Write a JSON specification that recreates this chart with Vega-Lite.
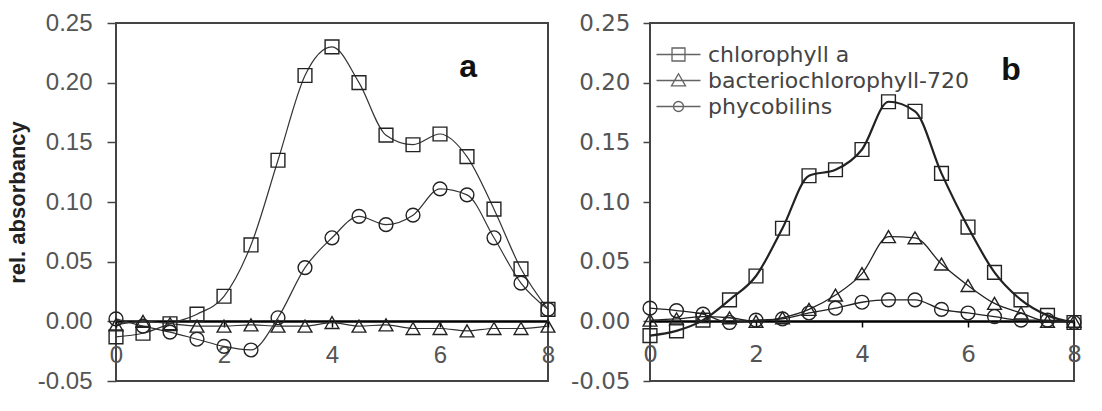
{
  "$schema": "https://vega.github.io/schema/vega-lite/v6.json",
  "padding": {"left": 5, "top": 10, "right": 5, "bottom": 5},
  "background": "white",
  "bounds": "flush",
  "spacing": 102,
  "config": {
    "font": "Liberation Sans",
    "view": {"stroke": "#444", "strokeWidth": 2},
    "axis": {"grid": false}
  },
  "datasets": {
    "pts": [
      {"panel": "a", "series": "chlorophyll a", "x": 0, "y": -0.013},
      {"panel": "a", "series": "chlorophyll a", "x": 0.5, "y": -0.010},
      {"panel": "a", "series": "chlorophyll a", "x": 1, "y": -0.002},
      {"panel": "a", "series": "chlorophyll a", "x": 1.5, "y": 0.006},
      {"panel": "a", "series": "chlorophyll a", "x": 2, "y": 0.021},
      {"panel": "a", "series": "chlorophyll a", "x": 2.5, "y": 0.064},
      {"panel": "a", "series": "chlorophyll a", "x": 3, "y": 0.135},
      {"panel": "a", "series": "chlorophyll a", "x": 3.5, "y": 0.206},
      {"panel": "a", "series": "chlorophyll a", "x": 4, "y": 0.230},
      {"panel": "a", "series": "chlorophyll a", "x": 4.5, "y": 0.200},
      {"panel": "a", "series": "chlorophyll a", "x": 5, "y": 0.156},
      {"panel": "a", "series": "chlorophyll a", "x": 5.5, "y": 0.148},
      {"panel": "a", "series": "chlorophyll a", "x": 6, "y": 0.157},
      {"panel": "a", "series": "chlorophyll a", "x": 6.5, "y": 0.138},
      {"panel": "a", "series": "chlorophyll a", "x": 7, "y": 0.094},
      {"panel": "a", "series": "chlorophyll a", "x": 7.5, "y": 0.044},
      {"panel": "a", "series": "chlorophyll a", "x": 8, "y": 0.010},
      {"panel": "a", "series": "bacteriochlorophyll-720", "x": 0, "y": -0.003},
      {"panel": "a", "series": "bacteriochlorophyll-720", "x": 0.5, "y": 0.0},
      {"panel": "a", "series": "bacteriochlorophyll-720", "x": 1, "y": -0.002},
      {"panel": "a", "series": "bacteriochlorophyll-720", "x": 1.5, "y": -0.004},
      {"panel": "a", "series": "bacteriochlorophyll-720", "x": 2, "y": -0.004},
      {"panel": "a", "series": "bacteriochlorophyll-720", "x": 2.5, "y": -0.003},
      {"panel": "a", "series": "bacteriochlorophyll-720", "x": 3, "y": -0.004},
      {"panel": "a", "series": "bacteriochlorophyll-720", "x": 3.5, "y": -0.004},
      {"panel": "a", "series": "bacteriochlorophyll-720", "x": 4, "y": -0.001},
      {"panel": "a", "series": "bacteriochlorophyll-720", "x": 4.5, "y": -0.004},
      {"panel": "a", "series": "bacteriochlorophyll-720", "x": 5, "y": -0.003},
      {"panel": "a", "series": "bacteriochlorophyll-720", "x": 5.5, "y": -0.006},
      {"panel": "a", "series": "bacteriochlorophyll-720", "x": 6, "y": -0.006},
      {"panel": "a", "series": "bacteriochlorophyll-720", "x": 6.5, "y": -0.008},
      {"panel": "a", "series": "bacteriochlorophyll-720", "x": 7, "y": -0.006},
      {"panel": "a", "series": "bacteriochlorophyll-720", "x": 7.5, "y": -0.006},
      {"panel": "a", "series": "bacteriochlorophyll-720", "x": 8, "y": -0.004},
      {"panel": "a", "series": "phycobilins", "x": 0, "y": 0.002},
      {"panel": "a", "series": "phycobilins", "x": 0.5, "y": -0.004},
      {"panel": "a", "series": "phycobilins", "x": 1, "y": -0.009},
      {"panel": "a", "series": "phycobilins", "x": 1.5, "y": -0.015},
      {"panel": "a", "series": "phycobilins", "x": 2, "y": -0.021},
      {"panel": "a", "series": "phycobilins", "x": 2.5, "y": -0.024},
      {"panel": "a", "series": "phycobilins", "x": 3, "y": 0.003},
      {"panel": "a", "series": "phycobilins", "x": 3.5, "y": 0.045},
      {"panel": "a", "series": "phycobilins", "x": 4, "y": 0.070},
      {"panel": "a", "series": "phycobilins", "x": 4.5, "y": 0.088},
      {"panel": "a", "series": "phycobilins", "x": 5, "y": 0.081},
      {"panel": "a", "series": "phycobilins", "x": 5.5, "y": 0.089},
      {"panel": "a", "series": "phycobilins", "x": 6, "y": 0.111},
      {"panel": "a", "series": "phycobilins", "x": 6.5, "y": 0.106},
      {"panel": "a", "series": "phycobilins", "x": 7, "y": 0.070},
      {"panel": "a", "series": "phycobilins", "x": 7.5, "y": 0.032},
      {"panel": "a", "series": "phycobilins", "x": 8, "y": 0.010},
      {"panel": "b", "series": "chlorophyll a", "x": 0, "y": -0.012},
      {"panel": "b", "series": "chlorophyll a", "x": 0.5, "y": -0.008},
      {"panel": "b", "series": "chlorophyll a", "x": 1, "y": 0.001},
      {"panel": "b", "series": "chlorophyll a", "x": 1.5, "y": 0.018},
      {"panel": "b", "series": "chlorophyll a", "x": 2, "y": 0.038},
      {"panel": "b", "series": "chlorophyll a", "x": 2.5, "y": 0.078},
      {"panel": "b", "series": "chlorophyll a", "x": 3, "y": 0.122},
      {"panel": "b", "series": "chlorophyll a", "x": 3.5, "y": 0.127},
      {"panel": "b", "series": "chlorophyll a", "x": 4, "y": 0.144},
      {"panel": "b", "series": "chlorophyll a", "x": 4.5, "y": 0.184},
      {"panel": "b", "series": "chlorophyll a", "x": 5, "y": 0.176},
      {"panel": "b", "series": "chlorophyll a", "x": 5.5, "y": 0.124},
      {"panel": "b", "series": "chlorophyll a", "x": 6, "y": 0.079},
      {"panel": "b", "series": "chlorophyll a", "x": 6.5, "y": 0.041},
      {"panel": "b", "series": "chlorophyll a", "x": 7, "y": 0.018},
      {"panel": "b", "series": "chlorophyll a", "x": 7.5, "y": 0.005},
      {"panel": "b", "series": "chlorophyll a", "x": 8, "y": -0.001},
      {"panel": "b", "series": "bacteriochlorophyll-720", "x": 0, "y": 0.001},
      {"panel": "b", "series": "bacteriochlorophyll-720", "x": 0.5, "y": 0.002},
      {"panel": "b", "series": "bacteriochlorophyll-720", "x": 1, "y": 0.004},
      {"panel": "b", "series": "bacteriochlorophyll-720", "x": 1.5, "y": 0.003},
      {"panel": "b", "series": "bacteriochlorophyll-720", "x": 2, "y": 0.0},
      {"panel": "b", "series": "bacteriochlorophyll-720", "x": 2.5, "y": 0.003},
      {"panel": "b", "series": "bacteriochlorophyll-720", "x": 3, "y": 0.010},
      {"panel": "b", "series": "bacteriochlorophyll-720", "x": 3.5, "y": 0.022},
      {"panel": "b", "series": "bacteriochlorophyll-720", "x": 4, "y": 0.040},
      {"panel": "b", "series": "bacteriochlorophyll-720", "x": 4.5, "y": 0.071},
      {"panel": "b", "series": "bacteriochlorophyll-720", "x": 5, "y": 0.070},
      {"panel": "b", "series": "bacteriochlorophyll-720", "x": 5.5, "y": 0.048},
      {"panel": "b", "series": "bacteriochlorophyll-720", "x": 6, "y": 0.030},
      {"panel": "b", "series": "bacteriochlorophyll-720", "x": 6.5, "y": 0.015},
      {"panel": "b", "series": "bacteriochlorophyll-720", "x": 7, "y": 0.007},
      {"panel": "b", "series": "bacteriochlorophyll-720", "x": 7.5, "y": 0.0},
      {"panel": "b", "series": "bacteriochlorophyll-720", "x": 8, "y": 0.0},
      {"panel": "b", "series": "phycobilins", "x": 0, "y": 0.011},
      {"panel": "b", "series": "phycobilins", "x": 0.5, "y": 0.009},
      {"panel": "b", "series": "phycobilins", "x": 1, "y": 0.006},
      {"panel": "b", "series": "phycobilins", "x": 1.5, "y": -0.001},
      {"panel": "b", "series": "phycobilins", "x": 2, "y": 0.001},
      {"panel": "b", "series": "phycobilins", "x": 2.5, "y": 0.002},
      {"panel": "b", "series": "phycobilins", "x": 3, "y": 0.007},
      {"panel": "b", "series": "phycobilins", "x": 3.5, "y": 0.011},
      {"panel": "b", "series": "phycobilins", "x": 4, "y": 0.016},
      {"panel": "b", "series": "phycobilins", "x": 4.5, "y": 0.018},
      {"panel": "b", "series": "phycobilins", "x": 5, "y": 0.018},
      {"panel": "b", "series": "phycobilins", "x": 5.5, "y": 0.010},
      {"panel": "b", "series": "phycobilins", "x": 6, "y": 0.007},
      {"panel": "b", "series": "phycobilins", "x": 6.5, "y": 0.004},
      {"panel": "b", "series": "phycobilins", "x": 7, "y": 0.001},
      {"panel": "b", "series": "phycobilins", "x": 7.5, "y": 0.001},
      {"panel": "b", "series": "phycobilins", "x": 8, "y": -0.001}
    ],
    "ann": [
      {"panel": "a", "label": "a", "x": 6.52, "y": 0.205},
      {"panel": "b", "label": "b", "x": 6.81, "y": 0.202}
    ]
  },
  "hconcat": [
    {
      "width": 432,
      "height": 358,
      "layer": [
        {
          "data": {"name": "pts"},
          "transform": [{"filter": "datum.panel === 'a'"}],
          "mark": {"type": "line", "interpolate": "monotone", "color": "#333", "strokeWidth": 1.2},
          "encoding": {
            "x": {"field": "x", "type": "quantitative", "scale": {"domain": [0, 8], "nice": false},
              "axis": {"values": [0, 2, 4, 6, 8], "format": "d", "offset": -60, "title": null, "labelFlush": false,
                "domainColor": "#000", "domainWidth": 2.5, "tickColor": "#000", "tickSize": 6, "tickWidth": 1.5,
                "labelPadding": 16, "labelFontSize": 24, "labelFont": "Liberation Sans", "labelColor": "#555"}},
            "y": {"field": "y", "type": "quantitative", "scale": {"domain": [-0.05, 0.25], "nice": false, "zero": false},
              "axis": {"values": [-0.05, 0, 0.05, 0.1, 0.15, 0.2, 0.25], "labelExpr": "datum.value < 0 ? '-' + format(-datum.value, '.2f') : format(datum.value, '.2f')", "domain": false,
                "tickColor": "#444", "tickSize": 9, "tickWidth": 1.5, "labelPadding": 15, "labelFontSize": 24, "labelFont": "Liberation Sans", "labelColor": "#555",
                "title": "rel. absorbancy", "titleFont": "Liberation Sans", "titleFontSize": 22, "titleFontWeight": "bold", "titleColor": "#222", "titlePadding": 8}},
            "detail": {"field": "series"}
          }
        },
        {
          "data": {"name": "pts"},
          "transform": [{"filter": "datum.panel === 'a'"}],
          "mark": {"type": "point", "filled": false, "strokeWidth": 1.4, "color": "#222", "size": 190, "opacity": 1},
          "encoding": {
            "x": {"field": "x", "type": "quantitative"},
            "y": {"field": "y", "type": "quantitative"},
            "shape": {"field": "series", "type": "nominal",
              "scale": {"domain": ["chlorophyll a", "bacteriochlorophyll-720", "phycobilins"], "range": ["square", "triangle-up", "circle"]},
              "legend": null}
          }
        },
        {
          "data": {"name": "ann"},
          "transform": [{"filter": "datum.panel === 'a'"}],
          "mark": {"type": "text", "fontSize": 32, "fontWeight": "bold", "font": "Liberation Sans", "baseline": "alphabetic", "align": "center", "color": "#111"},
          "encoding": {
            "x": {"field": "x", "type": "quantitative"},
            "y": {"field": "y", "type": "quantitative"},
            "text": {"field": "label"}
          }
        }
      ]
    },
    {
      "width": 424,
      "height": 358,
      "resolve": {"scale": {"shape": "independent"}, "legend": {"shape": "independent"}},
      "layer": [
        {
          "data": {"name": "pts"},
          "transform": [{"filter": "datum.panel === 'b'"}],
          "mark": {"type": "line", "interpolate": "monotone", "color": "#222"},
          "encoding": {
            "x": {"field": "x", "type": "quantitative", "scale": {"domain": [0, 8], "nice": false},
              "axis": {"values": [0, 2, 4, 6, 8], "format": "d", "offset": -60, "title": null, "labelFlush": false,
                "domainColor": "#000", "domainWidth": 2.5, "tickColor": "#000", "tickSize": 6, "tickWidth": 1.5,
                "labelPadding": 16, "labelFontSize": 23, "labelFont": "DejaVu Sans", "labelColor": "#555"}},
            "y": {"field": "y", "type": "quantitative", "scale": {"domain": [-0.05, 0.25], "nice": false, "zero": false},
              "axis": {"values": [-0.05, 0, 0.05, 0.1, 0.15, 0.2, 0.25], "labelExpr": "datum.value < 0 ? '-' + format(-datum.value, '.2f') : format(datum.value, '.2f')", "domain": false,
                "tickColor": "#444", "tickSize": 7, "tickWidth": 1.5, "labelPadding": 13, "labelFontSize": 23, "labelFont": "DejaVu Sans", "labelColor": "#555",
                "title": null}},
            "detail": {"field": "series"},
            "strokeWidth": {"condition": {"test": "datum.series === 'chlorophyll a'", "value": 2.2}, "value": 1.3}
          }
        },
        {
          "data": {"name": "pts"},
          "transform": [{"filter": "datum.panel === 'b'"}],
          "mark": {"type": "point", "filled": false, "strokeWidth": 1.4, "color": "#222", "size": 190, "opacity": 1},
          "encoding": {
            "x": {"field": "x", "type": "quantitative"},
            "y": {"field": "y", "type": "quantitative"},
            "shape": {"field": "series", "type": "nominal",
              "scale": {"domain": ["chlorophyll a", "bacteriochlorophyll-720", "phycobilins"], "range": ["square", "triangle-up", "circle"]},
              "legend": null}
          }
        },
        {
          "data": {"name": "pts"},
          "transform": [{"filter": "datum.panel === 'legendonly'"}],
          "mark": {"type": "point", "filled": false, "strokeWidth": 1.3, "color": "#222"},
          "encoding": {
            "x": {"field": "x", "type": "quantitative"},
            "y": {"field": "y", "type": "quantitative"},
            "shape": {"field": "series", "type": "nominal",
              "scale": {"domain": ["chlorophyll a", "bacteriochlorophyll-720", "phycobilins"],
                "range": ["M-1.63,0H1.63M-0.48,-0.48H0.48V0.48H-0.48Z", "M-1.63,0H1.63M0,-0.5L0.52,0.4H-0.52Z", "M-1.63,0H1.63M-0.37,0A0.37,0.37 0 1,0 0.37,0A0.37,0.37 0 1,0 -0.37,0Z"]},
              "legend": {"title": null, "orient": "none", "legendX": 14, "legendY": 17, "padding": 0,
                "symbolSize": 729, "symbolFillColor": "transparent", "symbolStrokeColor": "#222", "symbolStrokeWidth": 1.3,
                "labelFontSize": 22, "labelColor": "#444", "labelFont": "DejaVu Sans", "labelOffset": 15, "labelLimit": 400, "rowPadding": 0}}
          }
        },
        {
          "data": {"name": "ann"},
          "transform": [{"filter": "datum.panel === 'b'"}],
          "mark": {"type": "text", "fontSize": 32, "fontWeight": "bold", "font": "Liberation Sans", "baseline": "alphabetic", "align": "center", "color": "#111"},
          "encoding": {
            "x": {"field": "x", "type": "quantitative"},
            "y": {"field": "y", "type": "quantitative"},
            "text": {"field": "label"}
          }
        }
      ]
    }
  ],
  "resolve": {"scale": {"shape": "independent"}, "legend": {"shape": "independent"}}
}
